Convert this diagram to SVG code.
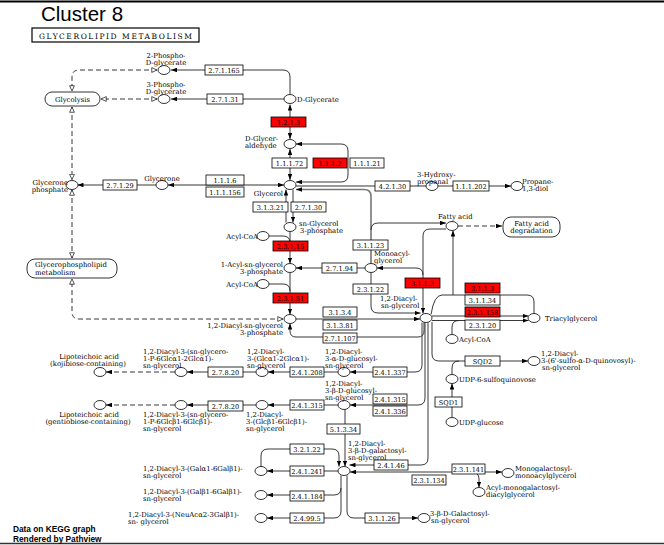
<svg xmlns="http://www.w3.org/2000/svg" width="664" height="545" viewBox="0 0 664 545">
<style>
.c{fill:#fff;stroke:#000;stroke-width:0.8}
.b{fill:#fff;stroke:#000;stroke-width:0.8}
.r{fill:#f00;stroke:#000;stroke-width:0.8}
.m{fill:#fff;stroke:#000;stroke-width:0.8}
text{font-family:"DejaVu Serif","Liberation Serif",serif;font-size:6.9px;fill:#000}
.bt{font-size:6.6px;text-anchor:middle}
.mid{text-anchor:middle}
.end{text-anchor:end}
.e{fill:none;stroke:#222;stroke-width:0.9}
.d{stroke-dasharray:5,3}
.g{stroke:#777;stroke-width:1.6}
.ae{marker-end:url(#af)}
.as{marker-start:url(#af)}
.oo{marker-start:url(#ao);marker-end:url(#ao)}
.hd{font-family:"Liberation Sans",Arial,sans-serif}
.t1{font-size:20.5px}
.t2{font-size:7.5px}
.t3{font-size:8.3px;font-weight:bold}
</style>
<defs>
<marker id="af" viewBox="0 0 8 6" refX="8" refY="3" markerWidth="6" markerHeight="4.5" orient="auto-start-reverse" markerUnits="userSpaceOnUse"><path d="M0,0L8,3L0,6z" fill="#000"/></marker>
<marker id="ao" viewBox="0 0 8 8" refX="7.5" refY="4" markerWidth="6" markerHeight="6" orient="auto-start-reverse" markerUnits="userSpaceOnUse"><path d="M0.5,0.8L7.5,4L0.5,7.2z" fill="#fff" stroke="#000" stroke-width="0.9"/></marker>
</defs>
<rect width="664" height="545" fill="#fff"/>
<line x1="0" y1="1.5" x2="664" y2="1.5" stroke="#000" stroke-width="2"/>
<line x1="0" y1="543.5" x2="664" y2="543.5" stroke="#333" stroke-width="1.5"/>
<text class="hd t1" x="41" y="21">Cluster 8</text>
<g id="title"><rect x="32" y="28" width="167" height="14" fill="#fff" stroke="#000" stroke-width="1.2"/><text class="t2" x="39" y="38.5" textLength="153" lengthAdjust="spacing">GLYCEROLIPID  METABOLISM</text></g>
<text class="hd t3" x="13" y="532">Data on KEGG graph</text>
<text class="hd t3" x="13" y="541.5">Rendered by Pathview</text>

<g id="edges">
<path class="e ae" d="M290,94.5 V77 Q290,70 283,70 H171"/>
<path class="e ae" d="M284,99 H171"/>
<path class="e d oo" d="M157,70 H79 Q72,70 72,77 V91"/>
<path class="e d oo" d="M157,99 H101"/>
<path class="e d oo" d="M72,107 V179.5"/>
<path class="e d oo" d="M72,190 V258"/>
<path class="e d oo" d="M283,319 H79 Q72,319 72,312 V279"/>
<path class="e d ae" d="M458,226 H502"/>
<path class="e as ae" d="M290,139 V104.5"/>
<path class="e as ae" d="M290,149 V180"/>
<path class="e as ae" d="M296,144 H341 Q348,144 348,151 V175 Q348,182 341,182 H296"/>
<path class="e ae" d="M156,185 H77.5"/>
<path class="e g as ae" d="M168,185 H284"/>
<path class="e g" d="M296,186 H426"/>
<path class="e ae" d="M438,186 H511"/>
<path class="e g as" d="M296,189.5 H364 Q371,189.5 371,196 V263.5"/>
<path class="e ae" d="M371,230 Q371,223 378,223 H446"/>
<path class="e ae" d="M286,222.5 V189.5"/>
<path class="e ae" d="M293,189.5 V222.5"/>
<path class="e ae" d="M290,231.5 V263.5"/>
<path class="e" d="M269,236 H283 Q290,236 290,243"/>
<path class="e ae" d="M290,272.5 V314.5"/>
<path class="e" d="M269,284 H283 Q290,284 290,291"/>
<path class="e ae" d="M365,268 H296"/>
<path class="e ae" d="M371,272.5 V306 Q371,313 378,313 H420.5"/>
<path class="e ae" d="M296,319 H420"/>
<path class="e ae" d="M424,322.5 V331 Q424,337 418,337 H296 Q290,337 290,331 V323.5"/>
<path class="e ae" d="M446,229 H430 Q423,229 423,236 V313.5"/>
<path class="e as" d="M377,268 H416 Q423,268 423,275"/>
<path class="e" d="M431,314.5 Q434,295 442,295 H527 Q534,295 534,302 V313.5"/>
<path class="e ae" d="M453,295 V230.5"/>
<path class="e ae" d="M432,316 H528.5"/>
<path class="e ae" d="M432,320.5 H528.5"/>
<path class="e" d="M452,334.5 V327 Q452,320.5 459,320.5"/>
<path class="e ae" d="M432,322 V354 Q432,361 439,361 H528"/>
<path class="e" d="M452,374.5 V368 Q452,361 459,361"/>
<path class="e ae" d="M452,417.5 V383.5"/>
<path class="e ae" d="M422,322.5 V365 Q422,372 415,372 H350"/>
<path class="e ae" d="M425,322.5 V398 Q425,405 418,405 H350"/>
<path class="e ae" d="M428,322.5 V458 Q428,465 421,465 H349.5"/>
<path class="e ae" d="M338,372 H268"/>
<path class="e ae" d="M256,372 H187"/>
<path class="e d ae" d="M175,372 H106"/>
<path class="e ae" d="M338,405 H268"/>
<path class="e ae" d="M256,405 H187"/>
<path class="e d ae" d="M175,405 H106"/>
<path class="e ae" d="M345,409.5 V466.5"/>
<path class="e ae" d="M261,466.5 V456 Q261,449 268,449 H332 Q339,449 339,456 V466.5"/>
<path class="e ae" d="M338,471 H267"/>
<path class="e ae" d="M341,475.5 V488 Q341,495 334,495 H267"/>
<path class="e ae" d="M341,488 V511 Q341,518 334,518 H267"/>
<path class="e ae" d="M347,475.5 V511 Q347,518 354,518 H418"/>
<path class="e as ae" d="M350,472 H502"/>
<path class="e ae" d="M462,472 H471 Q479,472 479,479 V487.5"/>
</g>

<g id="glycolysis"><rect class="m" x="45" y="92" width="55" height="14" rx="7"/><text class="mid" x="72.5" y="101.5">Glycolysis</text></g>
<g id="glycerophospholipid"><rect class="m" x="27" y="259" width="90" height="19" rx="8"/><text x="35" y="267">Glycerophospholipid</text><text x="35" y="274.5">metabolism</text></g>
<g id="fa-degradation"><rect class="m" x="503" y="217" width="57" height="20" rx="8"/><text class="mid" x="531.5" y="225.5">Fatty acid</text><text class="mid" x="531.5" y="233">degradation</text></g>

<g id="c-2pg"><ellipse class="c" cx="164" cy="70" rx="6" ry="4.5"/><text class="mid" x="166" y="58">2-Phospho-</text><text class="mid" x="166" y="65">D-glycerate</text></g>
<g id="c-3pg"><ellipse class="c" cx="164" cy="99" rx="6" ry="4.5"/><text class="mid" x="166" y="87">3-Phospho-</text><text class="mid" x="166" y="94">D-glycerate</text></g>
<g id="c-dglycerate"><ellipse class="c" cx="290" cy="99" rx="6" ry="4.5"/><text x="297" y="102">D-Glycerate</text></g>
<g id="c-dglyceraldehyde"><ellipse class="c" cx="290" cy="144" rx="6" ry="4.5"/><text x="245" y="141">D-Glycer-</text><text x="245" y="148">aldehyde</text></g>
<g id="c-glycerol"><ellipse class="c" cx="290" cy="185" rx="6" ry="4.5"/><text class="end" x="283" y="196">Glycerol</text></g>
<g id="c-glycerone"><ellipse class="c" cx="162" cy="185" rx="6" ry="4.5"/><text class="mid" x="162" y="180.5">Glycerone</text></g>
<g id="c-glyceronep"><ellipse class="c" cx="72" cy="185" rx="6" ry="4.5"/><text class="end" x="68" y="184.5">Glycerone</text><text class="end" x="68" y="191.5">phosphate</text></g>
<g id="c-3hp"><ellipse class="c" cx="432" cy="186" rx="6" ry="4.5"/><text x="417" y="176.5">3-Hydroxy-</text><text x="417" y="183.5">propanal</text></g>
<g id="c-propanediol"><ellipse class="c" cx="517" cy="186" rx="6" ry="4.5"/><text x="522" y="184">Propane-</text><text x="522" y="191">1,3-diol</text></g>
<g id="c-g3p"><ellipse class="c" cx="290" cy="227" rx="6" ry="4.5"/><text x="299" y="225.5">sn-Glycerol</text><text x="300" y="232.5">3-phosphate</text></g>
<g id="c-acylcoa1"><ellipse class="c" cx="263" cy="236" rx="6" ry="4.5"/><text class="end" x="258" y="238.5">Acyl-CoA</text></g>
<g id="c-lpa"><ellipse class="c" cx="290" cy="268" rx="6" ry="4.5"/><text class="end" x="283" y="267">1-Acyl-sn-glycerol</text><text class="end" x="283" y="274">3-phosphate</text></g>
<g id="c-acylcoa2"><ellipse class="c" cx="263" cy="284" rx="6" ry="4.5"/><text class="end" x="258" y="286.5">Acyl-CoA</text></g>
<g id="c-pa"><ellipse class="c" cx="290" cy="319" rx="6" ry="4.5"/><text class="end" x="283" y="327.5">1,2-Diacyl-sn-glycerol</text><text class="end" x="283" y="334.5">3-phosphate</text></g>
<g id="c-mag"><ellipse class="c" cx="371" cy="268" rx="6" ry="4.5"/><text x="374" y="255.5">Monoacyl-</text><text x="374" y="262.5">glycerol</text></g>
<g id="c-fattyacid"><ellipse class="c" cx="452" cy="226" rx="6" ry="4.5"/><text x="438" y="219">Fatty acid</text></g>
<g id="c-dag"><ellipse class="c" cx="426" cy="318" rx="6" ry="4.5"/><text x="380" y="301">1,2-Diacyl-</text><text x="381" y="308">sn-glycerol</text></g>
<g id="c-tag"><ellipse class="c" cx="534" cy="318" rx="6" ry="4.5"/><text x="545" y="321">Triacylglycerol</text></g>
<g id="c-acylcoa3"><ellipse class="c" cx="452" cy="339" rx="6" ry="4.5"/><text x="459" y="342">Acyl-CoA</text></g>
<g id="c-sqdg"><ellipse class="c" cx="534" cy="361" rx="6" ry="4.5"/><text x="541" y="356">1,2-Diacyl-</text><text x="541" y="363">3-(6'-sulfo-α-D-quinovosyl)-</text><text x="542" y="370">sn-glycerol</text></g>
<g id="c-udpsq"><ellipse class="c" cx="452" cy="379" rx="6" ry="4.5"/><text x="459" y="382">UDP-6-sulfoquinovose</text></g>
<g id="c-udpglc"><ellipse class="c" cx="452" cy="422" rx="6" ry="4.5"/><text x="459" y="425">UDP-glucose</text></g>
<g id="c-lta-koji"><ellipse class="c" cx="100" cy="372" rx="6" ry="4.5"/><text class="mid" x="89" y="359">Lipoteichoic acid</text><text class="mid" x="88" y="366">(kojibiose-containing)</text></g>
<g id="c-dag-glyp-a"><ellipse class="c" cx="181" cy="372" rx="6" ry="4.5"/><text x="143" y="353.5">1,2-Diacyl-3-(sn-glycero-</text><text x="143" y="360.5">1-P-6Glcα1-2Glcα1)-</text><text x="143" y="367.5">sn-glycerol</text></g>
<g id="c-dag-glca2"><ellipse class="c" cx="262" cy="372" rx="6" ry="4.5"/><text x="247" y="353.5">1,2-Diacyl-</text><text x="247" y="360.5">3-(Glcα1-2Glcα1)-</text><text x="247" y="367.5">sn-glycerol</text></g>
<g id="c-dag-aglc"><ellipse class="c" cx="344" cy="372" rx="6" ry="4.5"/><text x="325" y="353.5">1,2-Diacyl-</text><text x="325" y="360.5">3-α-D-glucosyl-</text><text x="325" y="367.5">sn-glycerol</text></g>
<g id="c-lta-gentio"><ellipse class="c" cx="100" cy="405" rx="6" ry="4.5"/><text class="mid" x="89" y="417">Lipoteichoic acid</text><text class="mid" x="88" y="424">(gentiobiose-containing)</text></g>
<g id="c-dag-glyp-b"><ellipse class="c" cx="181" cy="405" rx="6" ry="4.5"/><text x="143" y="416.5">1,2-Diacyl-3-(sn-glycero-</text><text x="143" y="423.5">1-P-6Glcβ1-6Glcβ1)-</text><text x="143" y="430.5">sn-glycerol</text></g>
<g id="c-dag-glcb2"><ellipse class="c" cx="262" cy="405" rx="6" ry="4.5"/><text x="246" y="416.5">1,2-Diacyl-</text><text x="246" y="423.5">3-(Glcβ1-6Glcβ1)-</text><text x="246" y="430.5">sn-glycerol</text></g>
<g id="c-dag-bglc"><ellipse class="c" cx="344" cy="405" rx="6" ry="4.5"/><text x="325" y="385.5">1,2-Diacyl-</text><text x="325" y="392.5">3-β-D-glucosyl-</text><text x="325" y="399.5">sn-glycerol</text></g>
<g id="c-mgdg"><ellipse class="c" cx="344" cy="471" rx="6" ry="4.5"/><text x="348" y="445.5">1,2-Diacyl-</text><text x="348" y="452.5">3-β-D-galactosyl-</text><text x="348" y="459.5">sn-glycerol</text></g>
<g id="c-dgdg-a"><ellipse class="c" cx="261" cy="471" rx="6" ry="4.5"/><text x="143" y="470.5">1,2-Diacyl-3-(Galα1-6Galβ1)-</text><text x="143" y="477.5">sn-glycerol</text></g>
<g id="c-dgdg-b"><ellipse class="c" cx="261" cy="495" rx="6" ry="4.5"/><text x="143" y="493.5">1,2-Diacyl-3-(Galβ1-6Galβ1)-</text><text x="143" y="500.5">sn-glycerol</text></g>
<g id="c-neuac"><ellipse class="c" cx="261" cy="518" rx="6" ry="4.5"/><text x="128" y="516.5">1,2-Diacyl-3-(NeuAcα2-3Galβ1)-</text><text x="128" y="523.5">sn- glycerol</text></g>
<g id="c-galglycerol"><ellipse class="c" cx="424" cy="518" rx="6" ry="4.5"/><text x="430" y="515.5">3-β-D-Galactosyl-</text><text x="431" y="522.5">sn-glycerol</text></g>
<g id="c-mgmg"><ellipse class="c" cx="508" cy="473" rx="6" ry="4.5"/><text x="515" y="470.5">Monogalactosyl-</text><text x="515" y="477.5">monoacylglycerol</text></g>
<g id="c-amgdg"><ellipse class="c" cx="479" cy="492" rx="6" ry="4.5"/><text x="486" y="489.5">Acyl-monogalactosyl-</text><text x="486" y="496.5">diacylglycerol</text></g>

<g id="ec-2.7.1.165"><rect class="b" x="205" y="65" width="38" height="10"/><text class="bt" x="224" y="72.5">2.7.1.165</text></g>
<g id="ec-2.7.1.31"><rect class="b" x="207" y="94" width="36" height="10"/><text class="bt" x="225" y="101.5">2.7.1.31</text></g>
<g id="ec-1.2.1.3"><rect class="r" x="271" y="117" width="35" height="10"/><text class="bt" x="288.5" y="124.5">1.2.1.3</text></g>
<g id="ec-1.1.1.72"><rect class="b" x="272" y="158" width="35" height="10"/><text class="bt" x="289.5" y="165.5">1.1.1.72</text></g>
<g id="ec-1.1.1.2"><rect class="r" x="313" y="158" width="34" height="10"/><text class="bt" x="330" y="165.5">1.1.1.2</text></g>
<g id="ec-1.1.1.21"><rect class="b" x="350" y="158" width="34" height="10"/><text class="bt" x="367" y="165.5">1.1.1.21</text></g>
<g id="ec-1.1.1.6"><rect class="b" x="206" y="175" width="38" height="10"/><text class="bt" x="225" y="182.5">1.1.1.6</text></g>
<g id="ec-1.1.1.156"><rect class="b" x="206" y="187" width="38" height="10"/><text class="bt" x="225" y="194.5">1.1.1.156</text></g>
<g id="ec-2.7.1.29"><rect class="b" x="103" y="180" width="34" height="10"/><text class="bt" x="120" y="187.5">2.7.1.29</text></g>
<g id="ec-4.2.1.30"><rect class="b" x="375" y="181" width="35" height="10"/><text class="bt" x="392.5" y="188.5">4.2.1.30</text></g>
<g id="ec-1.1.1.202"><rect class="b" x="453" y="181" width="36" height="10"/><text class="bt" x="471" y="188.5">1.1.1.202</text></g>
<g id="ec-3.1.3.21"><rect class="b" x="253" y="202" width="35" height="10"/><text class="bt" x="270.5" y="209.5">3.1.3.21</text></g>
<g id="ec-2.7.1.30"><rect class="b" x="291" y="202" width="35" height="10"/><text class="bt" x="308.5" y="209.5">2.7.1.30</text></g>
<g id="ec-2.3.1.15"><rect class="r" x="273" y="241" width="35" height="10"/><text class="bt" x="290.5" y="248.5">2.3.1.15</text></g>
<g id="ec-3.1.1.23"><rect class="b" x="353" y="240" width="35" height="10"/><text class="bt" x="370.5" y="247.5">3.1.1.23</text></g>
<g id="ec-2.7.1.94"><rect class="b" x="322" y="263" width="35" height="10"/><text class="bt" x="339.5" y="270.5">2.7.1.94</text></g>
<g id="ec-2.3.1.22"><rect class="b" x="353" y="284" width="35" height="10"/><text class="bt" x="370.5" y="291.5">2.3.1.22</text></g>
<g id="ec-3.1.1.3-a"><rect class="r" x="405" y="278" width="35" height="10"/><text class="bt" x="422.5" y="285.5">3.1.1.3</text></g>
<g id="ec-2.3.1.51"><rect class="r" x="273" y="293" width="35" height="10"/><text class="bt" x="290.5" y="300.5">2.3.1.51</text></g>
<g id="ec-3.1.3.4"><rect class="b" x="323" y="307" width="34" height="10"/><text class="bt" x="340" y="314.5">3.1.3.4</text></g>
<g id="ec-3.1.3.81"><rect class="b" x="323" y="320" width="34" height="10"/><text class="bt" x="340" y="327.5">3.1.3.81</text></g>
<g id="ec-2.7.1.107"><rect class="b" x="323" y="333" width="34" height="10"/><text class="bt" x="340" y="340.5">2.7.1.107</text></g>
<g id="ec-3.1.1.3-b"><rect class="r" x="465" y="283" width="35" height="10"/><text class="bt" x="482.5" y="290.5">3.1.1.3</text></g>
<g id="ec-3.1.1.34"><rect class="b" x="465" y="295" width="35" height="10"/><text class="bt" x="482.5" y="302.5">3.1.1.34</text></g>
<g id="ec-2.3.1.158"><rect class="r" x="465" y="307" width="35" height="10"/><text class="bt" x="482.5" y="314.5">2.3.1.158</text></g>
<g id="ec-2.3.1.20"><rect class="b" x="465" y="320" width="35" height="10"/><text class="bt" x="482.5" y="327.5">2.3.1.20</text></g>
<g id="ec-SQD2"><rect class="b" x="465" y="356" width="35" height="10"/><text class="bt" x="482.5" y="363.5">SQD2</text></g>
<g id="ec-SQD1"><rect class="b" x="435" y="397" width="27" height="10"/><text class="bt" x="448.5" y="404.5">SQD1</text></g>
<g id="ec-2.7.8.20-a"><rect class="b" x="208" y="367" width="35" height="10"/><text class="bt" x="225.5" y="374.5">2.7.8.20</text></g>
<g id="ec-2.4.1.208"><rect class="b" x="290" y="367" width="34" height="10"/><text class="bt" x="307" y="374.5">2.4.1.208</text></g>
<g id="ec-2.4.1.337"><rect class="b" x="373" y="367" width="34" height="10"/><text class="bt" x="390" y="374.5">2.4.1.337</text></g>
<g id="ec-2.7.8.20-b"><rect class="b" x="208" y="401" width="35" height="10"/><text class="bt" x="225.5" y="408.5">2.7.8.20</text></g>
<g id="ec-2.4.1.315-a"><rect class="b" x="290" y="400" width="34" height="10"/><text class="bt" x="307" y="407.5">2.4.1.315</text></g>
<g id="ec-2.4.1.315-b"><rect class="b" x="373" y="394" width="34" height="10"/><text class="bt" x="390" y="401.5">2.4.1.315</text></g>
<g id="ec-2.4.1.336"><rect class="b" x="373" y="406" width="34" height="10"/><text class="bt" x="390" y="413.5">2.4.1.336</text></g>
<g id="ec-5.1.3.34"><rect class="b" x="327" y="424" width="33" height="10"/><text class="bt" x="343.5" y="431.5">5.1.3.34</text></g>
<g id="ec-3.2.1.22"><rect class="b" x="290" y="444" width="34" height="10"/><text class="bt" x="307" y="451.5">3.2.1.22</text></g>
<g id="ec-2.4.1.241"><rect class="b" x="290" y="466" width="34" height="10"/><text class="bt" x="307" y="473.5">2.4.1.241</text></g>
<g id="ec-2.4.1.46"><rect class="b" x="374" y="460" width="34" height="10"/><text class="bt" x="391" y="467.5">2.4.1.46</text></g>
<g id="ec-2.3.1.141"><rect class="b" x="452" y="464" width="33" height="10"/><text class="bt" x="468.5" y="471.5">2.3.1.141</text></g>
<g id="ec-2.3.1.134"><rect class="b" x="412" y="475" width="34" height="10"/><text class="bt" x="429" y="482.5">2.3.1.134</text></g>
<g id="ec-2.4.1.184"><rect class="b" x="290" y="491" width="34" height="10"/><text class="bt" x="307" y="498.5">2.4.1.184</text></g>
<g id="ec-2.4.99.5"><rect class="b" x="290" y="513" width="34" height="10"/><text class="bt" x="307" y="520.5">2.4.99.5</text></g>
<g id="ec-3.1.1.26"><rect class="b" x="365" y="513" width="34" height="10"/><text class="bt" x="382" y="520.5">3.1.1.26</text></g>
</svg>
